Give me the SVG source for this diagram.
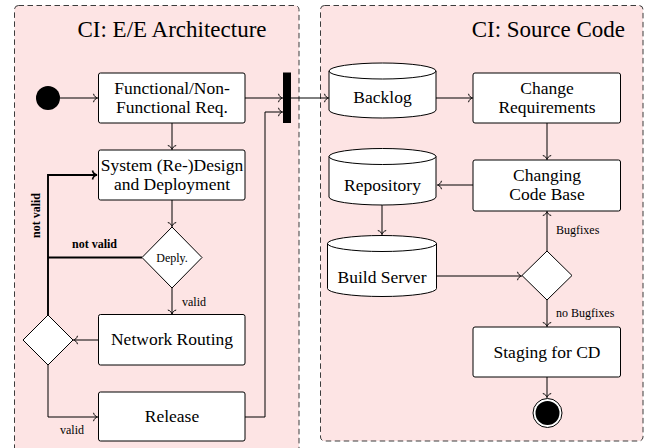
<svg xmlns="http://www.w3.org/2000/svg" width="645" height="448" viewBox="0 0 645 448">
<defs>
<marker id="arr" markerUnits="userSpaceOnUse" markerWidth="10" markerHeight="10" refX="0" refY="0" orient="auto" overflow="visible">
<path d="M -4,-4.2 C -3.5,-1.6 -1.2,-0.3 0,0 C -1.2,0.3 -3.5,1.6 -4,4.2" fill="none" stroke="#000" stroke-width="1"/>
</marker>
<marker id="arrb" markerUnits="userSpaceOnUse" markerWidth="10" markerHeight="10" refX="0" refY="0" orient="auto" overflow="visible">
<path d="M -4.5,-4.5 C -4,-1.7 -1.3,-0.3 0,0 C -1.3,0.3 -4,1.7 -4.5,4.5" fill="none" stroke="#000" stroke-width="1.6"/>
</marker>
</defs>
<style>
text{font-family:'Liberation Serif','Times New Roman',serif;fill:#000}
.panel{fill:#fde4e4;stroke:#3c3c3c;stroke-width:1;stroke-dasharray:5.5,3.5}
.box{fill:#fff;stroke:#000;stroke-width:1}
.t{font-size:17.5px;text-anchor:middle}
.title{font-size:23px}
.s{font-size:12px}
.sb{font-size:12px;font-weight:bold}
.c{fill:none;stroke:#000;stroke-width:1;marker-end:url(#arr)}
.cn{fill:none;stroke:#000;stroke-width:1}
.ck{fill:none;stroke:#000;stroke-width:1.9}
</style>
<g id="panel-ee">
<rect class="panel" x="14.5" y="5.5" width="284.5" height="460" rx="4"/>
<text class="title" x="172" y="37" text-anchor="middle">CI: E/E Architecture</text>
</g>
<g id="panel-sc">
<rect class="panel" x="320.5" y="5.5" width="322.5" height="435.5" rx="4"/>
<text class="title" x="625" y="37" text-anchor="end">CI: Source Code</text>
</g>
<g id="connectors">
<path class="c" d="M60,98 H97.5"/>
<path class="c" d="M172,123 V149.5"/>
<path class="c" d="M172,200 V226.5"/>
<path class="ck" d="M142,257.5 H48"/>
<path class="ck" d="M48,315 V175 H97" style="marker-end:url(#arrb)"/>
<path class="c" d="M172,288 V314"/>
<path class="c" d="M98,340 H73.5"/>
<path class="c" d="M48,365 V417 H97.5"/>
<path class="c" d="M245,417 H265 V112 H282.5"/>
<path class="c" d="M245,98 H282.5"/>
<path class="c" d="M291,98 H328.5"/>
<path class="c" d="M436,98 H472.5"/>
<path class="c" d="M547,123 V159.5"/>
<path class="c" d="M473,185 H437.5"/>
<path class="c" d="M382,205 V234.5"/>
<path class="c" d="M436.5,276 H521.5"/>
<path class="c" d="M547,251 V211.5"/>
<path class="c" d="M547,300 V326.5"/>
<path class="c" d="M547,377 V397.5"/>
<text class="s" x="182" y="306">valid</text>
<text class="s" x="60" y="434">valid</text>
<text class="sb" x="72" y="248">not valid</text>
<text class="sb" transform="translate(40,215.5) rotate(-90)" text-anchor="middle">not valid</text>
<text class="s" x="556" y="234">Bugfixes</text>
<text class="s" x="556" y="317">no Bugfixes</text>
</g>
<g id="start"><circle cx="48" cy="98" r="12" fill="#000"/></g>
<g id="req"><rect class="box" x="98.5" y="73" width="146.5" height="50" rx="2"/>
<text class="t" x="172" y="93.5">Functional/Non-</text><text class="t" x="172" y="112.5">Functional Req.</text></g>
<g id="design"><rect class="box" x="98.5" y="150" width="146.5" height="50" rx="2"/>
<text class="t" x="172" y="170.5">System (Re-)Design</text><text class="t" x="172" y="189.5">and Deployment</text></g>
<g id="deply"><path class="box" d="M172,227 L202,257.5 L172,288 L142,257.5 Z"/>
<text class="s" x="172" y="261.5" text-anchor="middle">Deply.</text></g>
<g id="routing"><rect class="box" x="98.5" y="314.5" width="146.5" height="50.5" rx="2"/>
<text class="t" x="172" y="345">Network Routing</text></g>
<g id="decision2"><path class="box" d="M48,315 L73,340 L48,365 L23,340 Z"/></g>
<g id="release"><rect class="box" x="98.5" y="392" width="146.5" height="49" rx="2"/>
<text class="t" x="172" y="422">Release</text></g>
<g id="join"><rect x="283" y="72.5" width="8" height="50.5" fill="#000"/></g>
<g id="backlog">
<path class="box" d="M329,71 V110 A53.5,8 0 0 0 436,110 V71 A53.5,8 0 0 0 329,71 Z"/>
<path class="cn" d="M329,71 A53.5,8 0 0 0 436,71"/>
<text class="t" x="382.5" y="103">Backlog</text></g>
<g id="changereq"><rect class="box" x="473" y="73" width="147.5" height="50" rx="2"/>
<text class="t" x="547" y="93.5">Change</text><text class="t" x="547" y="112.5">Requirements</text></g>
<g id="codebase"><rect class="box" x="473" y="160" width="147.5" height="51" rx="2"/>
<text class="t" x="547" y="181">Changing</text><text class="t" x="547" y="200">Code Base</text></g>
<g id="repository">
<path class="box" d="M329,156.5 V197 A53.5,8 0 0 0 436,197 V156.5 A53.5,8 0 0 0 329,156.5 Z"/>
<path class="cn" d="M329,156.5 A53.5,8 0 0 0 436,156.5"/>
<text class="t" x="382.5" y="191">Repository</text></g>
<g id="buildserver">
<path class="box" d="M327.5,243.5 V288.5 A54.5,8 0 0 0 436.5,288.5 V243.5 A54.5,8 0 0 0 327.5,243.5 Z"/>
<path class="cn" d="M327.5,243.5 A54.5,8 0 0 0 436.5,243.5"/>
<text class="t" x="382" y="282.5">Build Server</text></g>
<g id="decision3"><path class="box" d="M547,251 L572,275.5 L547,300 L522,275.5 Z"/></g>
<g id="staging"><rect class="box" x="473" y="327" width="147.5" height="50" rx="2"/>
<text class="t" x="547" y="358">Staging for CD</text></g>
<g id="end"><circle cx="547.5" cy="413" r="14.5" fill="#fff" stroke="#000" stroke-width="1"/><circle cx="547.5" cy="413" r="12" fill="#000"/></g>
</svg>
